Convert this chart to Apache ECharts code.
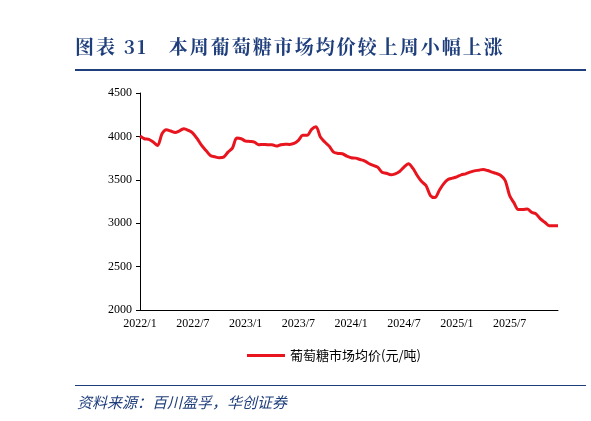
<!DOCTYPE html>
<html><head><meta charset="utf-8">
<script src="https://cdn.jsdelivr.net/npm/echarts@6/dist/echarts.min.js"></script>
<style>body{margin:0;background:#fff}#t{position:absolute;left:75px;top:32px;font:bold 19px "Noto Serif CJK SC","Noto Sans CJK SC";color:#1F3E7C;letter-spacing:2px}
#l1{position:absolute;left:75px;top:69px;width:511px;height:2px;background:#1F3E7C}
#l2{position:absolute;left:75px;top:385px;width:511px;height:1px;background:#1F3E7C}
#s{position:absolute;left:77px;top:391px;font:italic 15px "Noto Sans CJK SC";color:#1F3E7C}
#c{position:absolute;left:0;top:0;width:591px;height:421px}</style></head>
<body><div id="c"></div><div id="t">图表 31　本周葡萄糖市场均价较上周小幅上涨</div><div id="l1"></div><div id="l2"></div><div id="s">资料来源：百川盈孚，华创证券</div>
<script>
const seriesName = '葡萄糖市场均价(元/吨)';
const values = [4004,3973,3965,3935,3896,4030,4077,4062,4046,4065,4089,4069,
4038,3973,3896,3838,3780,3765,3754,3761,3819,3865,3981,3973,
3946,3942,3935,3904,3908,3904,3904,3888,3904,3911,3908,3919,
3954,4012,4012,4081,4112,3992,3935,3888,3819,3804,3800,3773,
3754,3750,3734,3719,3688,3665,3646,3588,3576,3557,3569,3596,
3646,3684,3634,3550,3480,3434,3319,3295,3376,3453,3503,3519,
3534,3557,3569,3588,3603,3611,3619,3607,3588,3573,3550,3492,
3319,3234,3157,3157,3165,3126,3107,3049,3011,2972,2972,2972];
const categories = [];
for (let y = 2022; y <= 2025; y++) for (let m = 1; m <= 12; m++) { categories.push(y + '/' + m + '/1'); categories.push(y + '/' + m + '/16'); }
const chart = echarts.init(document.getElementById('c'));
chart.setOption({
  animation: false,
  grid: {left: 140, right: 33, top: 93, bottom: 111},
  legend: {bottom: 54, left: 242, itemWidth: 38, itemHeight: 3, icon: 'rect',
    textStyle: {fontSize: 13, color: '#000', fontFamily: 'Noto Sans CJK SC'}},
  xAxis: {type: 'category', data: categories, boundaryGap: false,
    axisLine: {lineStyle: {color: '#000'}}, axisTick: {show: false},
    axisLabel: {interval: 11, color: '#000', fontSize: 12, fontFamily: 'Liberation Serif',
      formatter: v => v.split('/').slice(0, 2).join('/')}},
  yAxis: {type: 'value', min: 2000, max: 4500, interval: 500, splitLine: {show: false},
    axisLine: {show: true, lineStyle: {color: '#000'}}, axisTick: {show: true, inside: false, length: 4},
    axisLabel: {color: '#000', fontSize: 12, fontFamily: 'Liberation Serif', formatter: v => String(v)}},
  series: [{name: seriesName, type: 'line', data: values, showSymbol: false, smooth: 0.3,
    lineStyle: {color: '#E8141E', width: 3}, itemStyle: {color: '#E8141E'}}]
});
</script></body></html>
